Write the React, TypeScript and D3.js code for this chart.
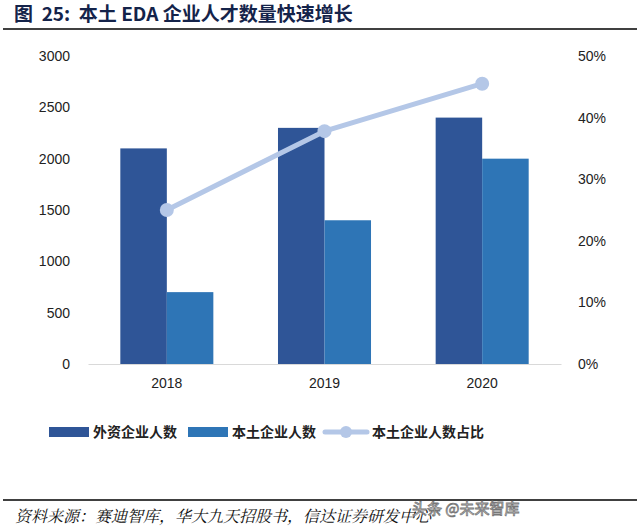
import * as React from 'react';
import { scaleBand, scaleLinear, line, axisLeft, axisRight, axisBottom, select } from 'd3';

const years = ['2018', '2019', '2020'];
const foreignStaff = [2100, 2300, 2400];
const localStaff = [700, 1400, 2000];
const localShare = [25, 37.8, 45.5];
const leftTicks = [0, 500, 1000, 1500, 2000, 2500, 3000];
const rightTicks = [0, 10, 20, 30, 40, 50];

const seriesNames = ['外资企业人数', '本土企业人数', '本土企业人数占比'];
const colors = ['#2f5597', '#2e75b6', '#b4c7e7'];

const W = 640;
const H = 532;
const margin = { top: 56, bottom: 168, left: 88, right: 79 };
const font = "'Liberation Sans', Arial, sans-serif";
const cjk = "'Noto Sans CJK SC', sans-serif";

const App = () => {
    const leftRef = React.useRef<SVGGElement>(null);
    const rightRef = React.useRef<SVGGElement>(null);
    const bottomRef = React.useRef<SVGGElement>(null);

    const x0 = scaleBand().domain(years).range([margin.left, W - margin.right]).paddingInner(0.41).paddingOuter(0.205);
    const x1 = scaleBand().domain(['f', 'l']).range([0, x0.bandwidth()]);
    const yLeft = scaleLinear().domain([0, 3000]).range([H - margin.bottom, margin.top]);
    const yRight = scaleLinear().domain([0, 50]).range([H - margin.bottom, margin.top]);
    const cx = (y: string) => (x0(y) || 0) + x0.bandwidth() / 2;

    const linePath = line<number>()
        .x((d, i) => cx(years[i]))
        .y((d) => yRight(d))(localShare);

    React.useEffect(() => {
        const styleAxis = (g: any) => {
            g.select('.domain').remove();
            g.selectAll('.tick line').remove();
            g.selectAll('text').attr('font-family', font).attr('font-size', 14).attr('fill', '#222');
        };
        select(leftRef.current).call(axisLeft(yLeft).tickValues(leftTicks).tickSize(0).tickPadding(18).tickFormat((d: any) => String(d)) as any).call(styleAxis);
        select(rightRef.current).call(axisRight(yRight).tickValues(rightTicks).tickSize(0).tickPadding(17).tickFormat((d: any) => d + '%') as any).call(styleAxis);
        select(bottomRef.current).call(axisBottom(x0).tickSize(0).tickPadding(14) as any).call((g: any) => {
            g.select('.domain').attr('stroke', '#d9d9d9');
            g.selectAll('text').attr('font-family', font).attr('font-size', 14).attr('fill', '#222');
        });
    }, []);

    const legendY = 432;
    const legendItems = [
        { x: 49, textX: 93 },
        { x: 188, textX: 232 },
        { x: 325, textX: 372 },
    ];

    return (
        <svg width={W} height={H} style={{ position: 'absolute', left: 0, top: 0, background: '#fff' }}>
            <text x={14} y={21} fontFamily={cjk} fontWeight="bold" fontSize={19} fill="#14234a" style={{ whiteSpace: 'pre' }}>
                {'图  25:  本土 EDA 企业人才数量快速增长'}
            </text>
            <line x1={3} x2={637} y1={29} y2={29} stroke="#000" strokeWidth={1.5} />

            <g ref={leftRef} transform={`translate(${margin.left},0)`} />
            <g ref={rightRef} transform={`translate(${W - margin.right},0)`} />

            {years.map((y, i) => (
                <g key={y} transform={`translate(${x0(y)},0)`}>
                    <rect x={x1('f')} y={yLeft(foreignStaff[i])} width={x1.bandwidth()} height={yLeft(0) - yLeft(foreignStaff[i])} fill={colors[0]} />
                    <rect x={x1('l')} y={yLeft(localStaff[i])} width={x1.bandwidth()} height={yLeft(0) - yLeft(localStaff[i])} fill={colors[1]} />
                </g>
            ))}
            <g ref={bottomRef} transform={`translate(0,${H - margin.bottom})`} />

            <path d={linePath || ''} fill="none" stroke={colors[2]} strokeWidth={5} strokeLinejoin="round" />
            {localShare.map((v, i) => (
                <circle key={i} cx={cx(years[i])} cy={yRight(v)} r={7} fill={colors[2]} />
            ))}

            {legendItems.map((it, i) => (
                <g key={i}>
                    {i < 2 ? (
                        <rect x={it.x} y={legendY - 5} width={40} height={10} fill={colors[i]} />
                    ) : (
                        <g>
                            <line x1={it.x} x2={it.x + 42} y1={legendY} y2={legendY} stroke={colors[2]} strokeWidth={5} strokeLinecap="round" />
                            <circle cx={it.x + 21} cy={legendY} r={6} fill={colors[2]} />
                        </g>
                    )}
                    <text x={it.textX} y={legendY + 5} fontFamily={cjk} fontSize={14} fontWeight={600} fill="#222">
                        {seriesNames[i]}
                    </text>
                </g>
            ))}

            <line x1={3} x2={637} y1={500} y2={500} stroke="#000" strokeWidth={1.5} />
            <text x={15} y={522} fontFamily="'Noto Serif CJK SC', 'Noto Sans CJK SC', serif" fontStyle="italic" fontSize={16} fill="#111">
                资料来源：赛迪智库，华大九天招股书，信达证券研发中心
            </text>
            <text x={412} y={514} fontFamily={cjk} fontSize={15} fill="#fff" stroke="#777" strokeWidth={0.8}>
                头条 @未来智库
            </text>
        </svg>
    );
};

export default App;
